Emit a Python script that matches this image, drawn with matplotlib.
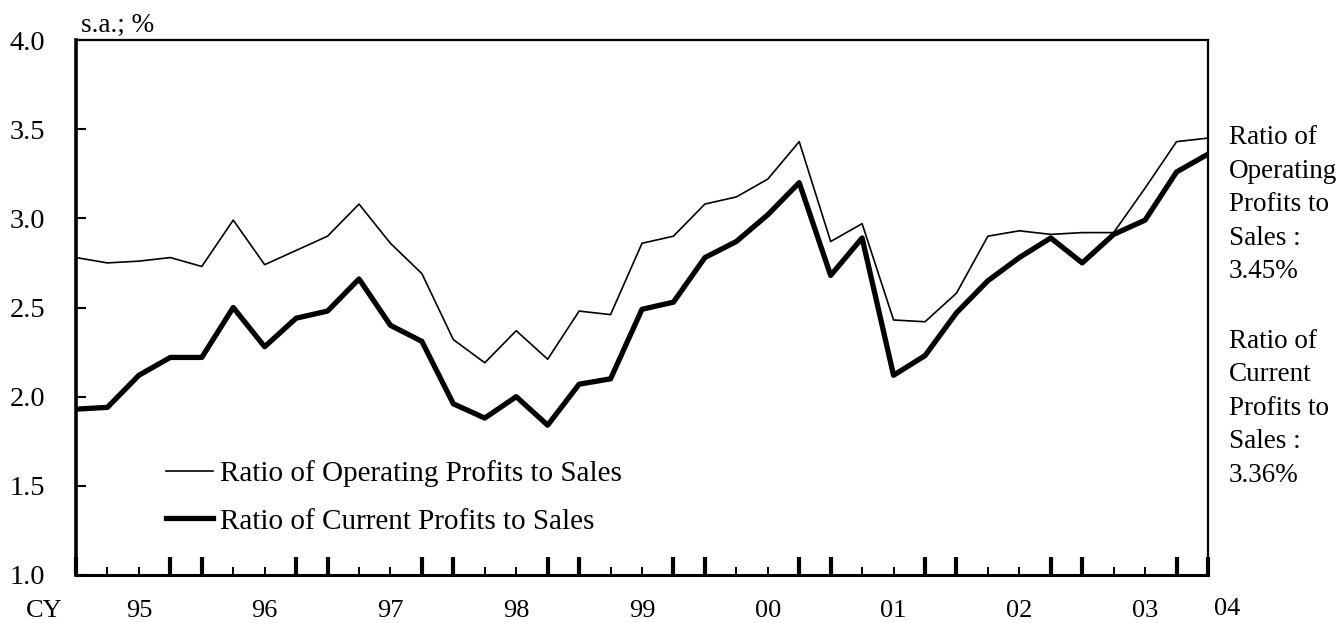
import matplotlib.pyplot as plt
import numpy as np

# quarterly, CY1995 Q1 .. CY2004 Q1 (s.a., %)
operating = [2.78, 2.75, 2.76, 2.78, 2.73, 2.99, 2.74, 2.82, 2.90, 3.08,
             2.86, 2.69, 2.32, 2.19, 2.37, 2.21, 2.48, 2.46, 2.86, 2.90,
             3.08, 3.12, 3.22, 3.43, 2.87, 2.97, 2.43, 2.42, 2.58, 2.90,
             2.93, 2.91, 2.92, 2.92, 3.17, 3.43, 3.45]
current = [1.93, 1.94, 2.12, 2.22, 2.22, 2.50, 2.28, 2.44, 2.48, 2.66,
           2.40, 2.31, 1.96, 1.88, 2.00, 1.84, 2.07, 2.10, 2.49, 2.53,
           2.78, 2.87, 3.02, 3.20, 2.68, 2.89, 2.12, 2.23, 2.47, 2.65,
           2.78, 2.89, 2.75, 2.91, 2.99, 3.26, 3.36]
years = ['95', '96', '97', '98', '99', '00', '01', '02', '03']
op_label = 'Ratio of Operating Profits to Sales'
cur_label = 'Ratio of Current Profits to Sales'
op_note = ['Ratio of', 'Operating', 'Profits to', 'Sales :', '3.45%']
cur_note = ['Ratio of', 'Current', 'Profits to', 'Sales :', '3.36%']

plt.rcParams['font.family'] = ['Liberation Serif', 'DejaVu Serif']
plt.rcParams['font.size'] = 19.5

fig = plt.figure(figsize=(13.38, 6.23), dpi=100)
ax = fig.add_axes([76 / 1338, 48 / 623, 1132 / 1338, 535 / 623])

x = np.arange(len(operating))
ax.plot(x, operating, color='black', lw=1.2, label=op_label)
ax.plot(x, current, color='black', lw=3.8, label=cur_label)

ax.set_xlim(0, len(operating) - 1)
ax.set_ylim(1.0, 4.0)
ax.set_yticks(np.arange(1.0, 4.01, 0.5))
ax.set_yticklabels(['%.1f' % v for v in np.arange(1.0, 4.01, 0.5)], fontsize=20.5)

# thick ticks at quarter boundaries, thin ticks in between
major = [i for i in x if i % 4 in (0, 3)]
minor = [i for i in x if i % 4 in (1, 2)]
ax.set_xticks(major)
ax.set_xticks(minor, minor=True)
ax.set_xticklabels([])
ax.tick_params(axis='x', which='major', direction='in', length=13, width=3.0)
ax.tick_params(axis='x', which='minor', direction='in', length=6, width=1.4)
ax.tick_params(axis='y', direction='in', length=7, width=1.5, pad=22)

for side, w in [('left', 2.6), ('bottom', 2.2), ('top', 1.6), ('right', 1.6)]:
    ax.spines[side].set_linewidth(w)

# year labels under the axis
xt = ax.get_xaxis_transform()
for k, yr in enumerate(years):
    ax.text(2 + 4 * k, -0.079, yr, transform=xt, ha='center', va='baseline', fontsize=19)
ax.text(x[-1] + 0.6, -0.075, '04', transform=xt, ha='center', va='baseline', fontsize=19)
ax.text(-1.0, -0.079, 'CY', transform=xt, ha='center', va='baseline', fontsize=19)
ax.text(0.004, 1.015, 's.a.; %', transform=ax.transAxes, ha='left', va='baseline')

# notes on the right
for j, s in enumerate(op_note):
    fig.text(1229 / 1338, 1 - (144 + 33.6 * j) / 623, s, ha='left', va='baseline')
for j, s in enumerate(cur_note):
    fig.text(1229 / 1338, 1 - (347.5 + 33.6 * j) / 623, s, ha='left', va='baseline')

ax.legend(loc='center left', bbox_to_anchor=(0.0795, 0.145), frameon=False,
          handlelength=1.62, handletextpad=0.24, labelspacing=0.72,
          borderpad=0, borderaxespad=0, fontsize=21)

fig.savefig('out.png', dpi=100)
